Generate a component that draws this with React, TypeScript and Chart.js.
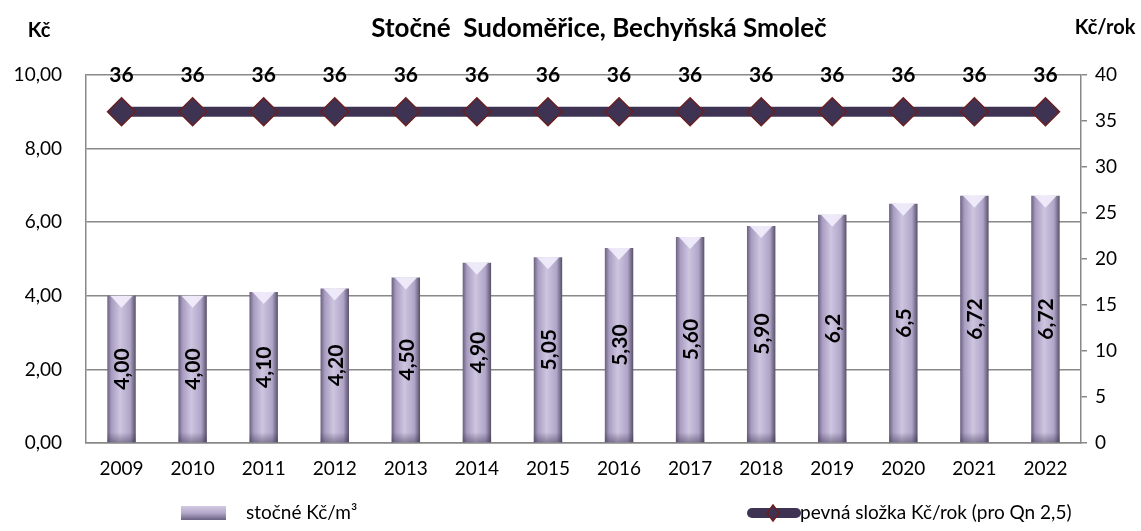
import React, { useEffect, useRef } from "react";
import { Chart, registerables } from "chart.js";
Chart.register(...registerables);

const years = ["2009","2010","2011","2012","2013","2014","2015","2016","2017","2018","2019","2020","2021","2022"];
const stocne = [4.0, 4.0, 4.1, 4.2, 4.5, 4.9, 5.05, 5.3, 5.6, 5.9, 6.2, 6.5, 6.72, 6.72];
const stocneLabels = ["4,00","4,00","4,10","4,20","4,50","4,90","5,05","5,30","5,60","5,90","6,2","6,5","6,72","6,72"];
const pevna = [36, 36, 36, 36, 36, 36, 36, 36, 36, 36, 36, 36, 36, 36];
const title = "Stočné  Sudoměřice, Bechyňská Smoleč";
const leftTitle = "Kč";
const rightTitle = "Kč/rok";
const barLabel = "stočné Kč/m³";
const lineLabel = "pevná složka Kč/rok (pro Qn 2,5)";

const FONT = "Lato, 'Open Sans', sans-serif";
const BAR_PCT = 0.4;

function barGradient(ctx: CanvasRenderingContext2D, x0: number, x1: number) {
  const g = ctx.createLinearGradient(x0, 0, x1, 0);
  g.addColorStop(0, "#6a6080");
  g.addColorStop(0.15, "#a89cc0");
  g.addColorStop(0.45, "#cec5e0");
  g.addColorStop(0.8, "#b0a5c8");
  g.addColorStop(1, "#585069");
  return g;
}

const decorPlugin = {
  id: "decor",
  afterDatasetsDraw(chart: any) {
    const ctx = chart.ctx as CanvasRenderingContext2D;
    const barMeta = chart.getDatasetMeta(0);
    const lineMeta = chart.getDatasetMeta(1);
    ctx.save();
    // bar bevels
    barMeta.data.forEach((el: any) => {
      const half = el.width / 2;
      ctx.fillStyle = "rgba(242,238,252,0.9)";
      ctx.beginPath();
      ctx.moveTo(el.x - half + 3, el.y);
      ctx.lineTo(el.x + half - 3, el.y);
      ctx.lineTo(el.x, el.y + 12);
      ctx.closePath();
      ctx.fill();
      const bg = ctx.createLinearGradient(0, el.base - 10, 0, el.base);
      bg.addColorStop(0, "rgba(60,50,80,0)");
      bg.addColorStop(1, "rgba(60,50,80,0.45)");
      ctx.fillStyle = bg;
      ctx.fillRect(el.x - half, el.base - 10, el.width, 10);
    });
    // bar labels
    ctx.font = `bold 21px ${FONT}`;
    ctx.fillStyle = "#000";
    ctx.textAlign = "center";
    ctx.textBaseline = "middle";
    barMeta.data.forEach((el: any, i: number) => {
      const cy = (el.y + el.base) / 2;
      ctx.save();
      ctx.translate(el.x + 1, cy);
      ctx.rotate(-Math.PI / 2);
      ctx.fillText(stocneLabels[i], 0, 0);
      ctx.restore();
    });
    // line labels
    lineMeta.data.forEach((el: any, i: number) => {
      ctx.fillText(String(pevna[i]), el.x, chart.chartArea.top);
    });
    ctx.restore();
  },
  afterDraw(chart: any) {
    const ctx = chart.ctx as CanvasRenderingContext2D;
    ctx.save();
    ctx.fillStyle = "#000";
    ctx.textBaseline = "middle";
    ctx.textAlign = "center";
    ctx.font = `bold 26px ${FONT}`;
    ctx.fillText(title, 599, 29);
    ctx.font = `bold 20px ${FONT}`;
    ctx.fillText(leftTitle, 39, 31);
    ctx.fillText(rightTitle, 1105, 28);
    // legend
    ctx.textAlign = "left";
    ctx.font = `19px ${FONT}`;
    const lg = ctx.createLinearGradient(0, 506, 0, 520);
    lg.addColorStop(0, "#d2c9e4");
    lg.addColorStop(0.5, "#b3a8ca");
    lg.addColorStop(1, "#6a6080");
    ctx.fillStyle = lg;
    ctx.fillRect(181, 506, 45, 14);
    ctx.fillStyle = "#000";
    ctx.fillText(barLabel, 246, 513);
    ctx.strokeStyle = "#3f3354";
    ctx.lineWidth = 10;
    ctx.lineCap = "round";
    ctx.beginPath();
    ctx.moveTo(752, 513);
    ctx.lineTo(796, 513);
    ctx.stroke();
    ctx.fillStyle = "#3f3354";
    ctx.strokeStyle = "#6b1f1f";
    ctx.lineWidth = 1.5;
    ctx.beginPath();
    ctx.moveTo(773, 505);
    ctx.lineTo(779, 513);
    ctx.lineTo(773, 521);
    ctx.lineTo(767, 513);
    ctx.closePath();
    ctx.fill();
    ctx.stroke();
    ctx.fillStyle = "#000";
    ctx.fillText(lineLabel, 800, 513);
    ctx.restore();
  },
};

export default function App() {
  const ref = useRef<HTMLCanvasElement>(null);
  useEffect(() => {
    const canvas = ref.current!;
    const chart = new Chart(canvas, {
      type: "bar",
      data: {
        labels: years,
        datasets: [
          {
            type: "bar",
            label: barLabel,
            data: stocne,
            yAxisID: "y",
            barPercentage: BAR_PCT,
            categoryPercentage: 1,
            backgroundColor: (c: any) => {
              const ch = c.chart;
              const xs = ch.scales && ch.scales.x;
              if (!xs || !ch.chartArea || c.dataIndex == null) return "#b5aacb";
              const cx = xs.getPixelForValue(c.dataIndex);
              const w = (ch.chartArea.width / years.length) * BAR_PCT;
              return barGradient(ch.ctx, cx - w / 2, cx + w / 2);
            },
            borderWidth: 0,
            order: 2,
          },
          {
            type: "line",
            label: lineLabel,
            data: pevna,
            yAxisID: "y1",
            borderColor: "#3f3354",
            borderWidth: 10,
            pointStyle: "rectRot",
            pointRadius: 14,
            pointBackgroundColor: "#3f3354",
            pointBorderColor: "#6b1f1f",
            pointBorderWidth: 1.5,
            order: 1,
          },
        ],
      },
      options: {
        animation: false,
        responsive: false,
        maintainAspectRatio: false,
        layout: { padding: { left: 0, right: 0, top: 75, bottom: 48 } },
        plugins: { legend: { display: false }, tooltip: { enabled: false } },
        scales: {
          x: {
            grid: { display: false, drawTicks: false },
            border: { color: "#888", width: 1.5 },
            ticks: { color: "#000", font: { family: FONT, size: 19 }, padding: 14 },
            afterFit: (s: any) => { s.height = 40; },
          },
          y: {
            position: "left",
            min: 0,
            max: 10,
            ticks: {
              stepSize: 2,
              color: "#000",
              font: { family: FONT, size: 19 },
              padding: 24,
              callback: (v: any) => Number(v).toFixed(2).replace(".", ","),
            },
            grid: { color: "#888", lineWidth: 1.5, drawTicks: false },
            border: { color: "#888", width: 1.5 },
            afterFit: (s: any) => { s.width = 86; },
          },
          y1: {
            position: "right",
            min: 0,
            max: 40,
            ticks: { stepSize: 5, color: "#000", font: { family: FONT, size: 19 }, padding: 8 },
            grid: { drawOnChartArea: false, color: "#888", lineWidth: 1.5, tickLength: 6 },
            border: { color: "#888", width: 1.5 },
            afterFit: (s: any) => { s.width = 60; },
          },
        },
      },
      plugins: [decorPlugin],
    });
    return () => chart.destroy();
  }, []);
  return (
    <div style={{ position: "fixed", left: 0, top: 0, width: 1141, height: 531, background: "#fff" }}>
      <canvas ref={ref} width={1141} height={531} style={{ width: 1141, height: 531 }} />
    </div>
  );
}
